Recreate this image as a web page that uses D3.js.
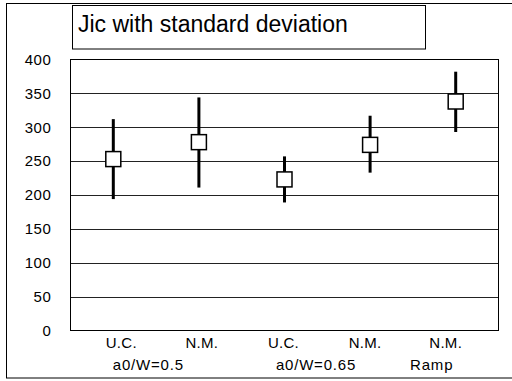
<!DOCTYPE html>
<html><head><meta charset="utf-8">
<script src="https://cdn.jsdelivr.net/npm/d3@7"></script>
<style>body{margin:0;background:#fff}svg{display:block;font-family:Arial,"Liberation Sans",sans-serif}</style>
</head><body>
<script>
const categories = ["U.C.", "N.M.", "U.C.", "N.M.", "N.M."];
const means = [253, 278, 223, 274, 338];
const upper = [312, 344, 257, 317, 382];
const lower = [194, 211, 189, 233, 293];
const groupLabels = ["a0/W=0.5", "a0/W=0.65", "Ramp"];
const yTicks = [0, 50, 100, 150, 200, 250, 300, 350, 400];
const title = "Jic with standard deviation";

const W = 512, H = 381;
const svg = d3.select("body").append("svg").attr("width", W).attr("height", H);

// outer frame
svg.append("rect").attr("x", 6.5).attr("y", 3.5).attr("width", 520).attr("height", 374.5)
  .attr("fill", "#fff").attr("stroke", "#000").attr("stroke-width", 1);

const plot = {left: 70.5, top: 59.5, right: 498.5, bottom: 330.5};
const x = d3.scaleBand().domain(d3.range(categories.length)).range([plot.left, plot.right]);
const y = d3.scaleLinear().domain([0, 400]).range([plot.bottom, plot.top]);

// gridlines
svg.append("g").selectAll("line").data(yTicks.filter(d => d > 0 && d < 400)).join("line")
  .attr("x1", plot.left).attr("x2", plot.right)
  .attr("y1", d => Math.round(y(d)) + 0.5).attr("y2", d => Math.round(y(d)) + 0.5)
  .attr("stroke", "#222").attr("stroke-width", 1);

// plot frame
svg.append("rect").attr("x", plot.left).attr("y", plot.top)
  .attr("width", plot.right - plot.left).attr("height", plot.bottom - plot.top)
  .attr("fill", "none").attr("stroke", "#000").attr("stroke-width", 1);

// y axis labels
const yAxis = d3.axisLeft(y).tickValues(yTicks).tickSize(0).tickPadding(19);
const ga = svg.append("g").attr("transform", `translate(${plot.left},0)`).call(yAxis);
ga.select(".domain").remove();
ga.selectAll("text").attr("font-size", 15).attr("font-family", "Arial, 'Liberation Sans', sans-serif")
  .attr("fill", "#000").attr("letter-spacing", 0.6);

// x category labels
const cx = i => x(i) + x.bandwidth() / 2;
const catDx = [8, 3, -1, -5, -10];
svg.append("g").selectAll("text").data(categories).join("text")
  .attr("x", (d, i) => cx(i) + catDx[i]).attr("y", 348)
  .attr("text-anchor", "middle").attr("font-size", 15).attr("letter-spacing", 0.3).text(d => d);

// group labels
const groupPos = [cx(0) + 35, cx(2) + 31.5, cx(4) - 24];
svg.append("g").selectAll("text").data(groupLabels).join("text")
  .attr("x", (d, i) => groupPos[i]).attr("y", 370)
  .attr("text-anchor", "middle").attr("font-size", 15).attr("letter-spacing", 0.8).text(d => d);

// error bars
svg.append("g").selectAll("line").data(means).join("line")
  .attr("x1", (d, i) => cx(i)).attr("x2", (d, i) => cx(i))
  .attr("y1", (d, i) => y(upper[i])).attr("y2", (d, i) => y(lower[i]))
  .attr("stroke", "#000").attr("stroke-width", 3);

// markers
const ms = 15;
svg.append("g").selectAll("rect").data(means).join("rect")
  .attr("x", (d, i) => cx(i) - ms / 2).attr("y", d => y(d) - ms / 2)
  .attr("width", ms).attr("height", ms)
  .attr("fill", "#fff").attr("stroke", "#000").attr("stroke-width", 1.5);

// title box
svg.append("rect").attr("x", 72.5).attr("y", 5.5).attr("width", 353).attr("height", 43.5)
  .attr("fill", "#fff").attr("stroke", "#000").attr("stroke-width", 1);
svg.append("text").attr("x", 78).attr("y", 32).attr("font-size", 23).attr("fill", "#000").text(title);
</script>
</body></html>
